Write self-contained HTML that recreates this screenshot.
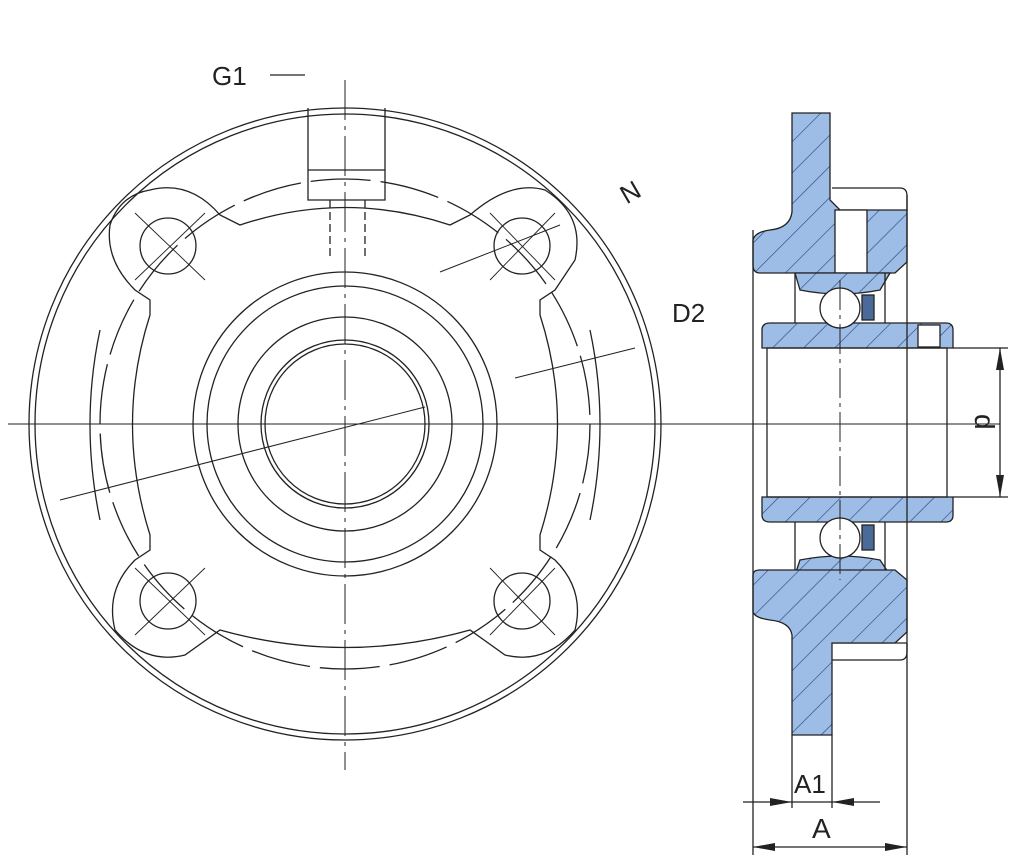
<!DOCTYPE html>
<html><head><meta charset="utf-8"><style>
html,body{margin:0;padding:0;background:#fff;}
svg{display:block;}
text{font-family:"Liberation Sans",sans-serif;fill:#222;}
</style></head><body>
<svg width="1024" height="868" viewBox="0 0 1024 868" xmlns="http://www.w3.org/2000/svg">
<defs>
<pattern id="h" patternUnits="userSpaceOnUse" width="22" height="22" patternTransform="rotate(45)">
<rect width="22" height="22" fill="#9dbde6"/>
<line x1="0" y1="0" x2="0" y2="22" stroke="#2a4a80" stroke-width="1.3"/>
</pattern>
</defs>
<g fill="none" stroke="#222" stroke-width="1.3">
<!-- front view -->
<circle cx="345" cy="424" r="316"/>
<circle cx="345" cy="424" r="310"/>
<circle cx="345" cy="424" r="152"/>
<circle cx="345" cy="424" r="138"/>
<circle cx="345" cy="424" r="107"/>
<circle cx="345" cy="424" r="84"/>
<circle cx="345" cy="424" r="80"/>
<circle cx="345" cy="424" r="245" stroke-dasharray="60 10"/>
<!-- flange outline -->
<path d="M150,190 Q190,180 220,215 L240,225 Q345,190 450,225 L470,215 Q510,180 545,190 Q585,215 575,260 L555,290 L540,300 L540,315 Q575,424 540,535 L540,550 L555,560 Q585,590 575,630 Q545,665 505,655 L470,630 Q345,665 220,630 L185,655 Q145,665 115,630 Q105,590 135,560 L150,550 L150,535 Q115,424 150,315 L150,300 L135,290 Q105,260 110,225 Q120,195 150,190 Z"/>
<path d="M100,520 Q80,424 100,330"/>
<path d="M590,520 Q610,424 590,330"/>
<!-- bolt holes -->
<circle cx="168" cy="246" r="28"/>
<circle cx="522" cy="246" r="28"/>
<circle cx="168" cy="601" r="28"/>
<circle cx="522" cy="601" r="28"/>
<g stroke-width="0.9">
<line x1="135" y1="213" x2="205" y2="280"/><line x1="135" y1="280" x2="205" y2="213"/>
<line x1="490" y1="213" x2="555" y2="280"/><line x1="490" y1="280" x2="555" y2="213"/>
<line x1="135" y1="568" x2="205" y2="635"/><line x1="135" y1="635" x2="205" y2="568"/>
<line x1="490" y1="568" x2="555" y2="635"/><line x1="490" y1="635" x2="555" y2="568"/>
</g>
<!-- top boss -->
<path d="M308,108 L308,200 L385,200 L385,108"/>
<line x1="308" y1="170" x2="385" y2="170"/>
<path d="M330,200 V260 M365,200 V260" stroke-dasharray="8 4"/>
<!-- center lines -->
<line x1="345" y1="80" x2="345" y2="770" stroke-dasharray="40 6 4 6" stroke-width="1"/>
<line x1="8" y1="424" x2="1000" y2="424" stroke-width="1"/>
<!-- leaders -->
<line x1="60" y1="500" x2="425" y2="407" stroke-width="1"/>
<line x1="440" y1="272" x2="560" y2="225" stroke-width="1"/>
<line x1="515" y1="378" x2="635" y2="348" stroke-width="1"/>
<line x1="270" y1="75" x2="305" y2="75"/>
</g>
<text x="212" y="85" font-size="26">G1</text>
<text x="620" y="200" font-size="26" transform="rotate(-30 632 190)">N</text>
<text x="672" y="322" font-size="26">D2</text>
<!-- section view -->
<g stroke="#222" stroke-width="1.3">
<path d="M832,188 H900 Q907,188 907,196 V210" fill="none"/>
<path d="M832,643 H907 M832,660 H900 Q907,660 907,652 V643" fill="none"/>
<path fill="url(#h)" d="M792,113 H830 V200 L840,210 H907 V262 L895,273 H760 Q753,273 753,265 V240 Q755,232 770,230 Q790,228 792,212 Z"/>
<rect x="835" y="210" width="32" height="63" fill="#fff"/>
<path fill="url(#h)" d="M795,273 H890 L880,290 Q840,298 800,290 Z"/>
<path fill="url(#h)" d="M795,575 H890 L880,560 Q840,552 800,560 Z"/>
<path fill="url(#h)" d="M762,330 Q762,323 770,323 H946 Q953,323 953,330 V348 H762 Z"/>
<path fill="url(#h)" d="M762,497 H953 V515 Q953,522 946,522 H770 Q762,522 762,515 Z"/>
<rect x="918" y="325" width="22" height="22" fill="#fff"/>
<path fill="url(#h)" d="M753,575 Q753,570 760,570 H895 L907,580 V632 L895,643 H832 V735 H792 V635 Q790,622 770,620 Q755,618 753,612 Z"/>
<circle cx="840" cy="308" r="20" fill="#fff"/>
<circle cx="840" cy="538" r="20" fill="#fff"/>
<rect x="862" y="295" width="12" height="25" fill="#4a6a9a"/>
<rect x="862" y="525" width="12" height="25" fill="#4a6a9a"/>
<g fill="none">
<path d="M795,273 V323 M885,273 V323 M795,522 V570 M885,522 V570"/>
<rect x="767" y="348" width="180" height="149"/>
<line x1="753" y1="230" x2="753" y2="855"/>
<line x1="907" y1="195" x2="907" y2="855"/>
<line x1="792" y1="735" x2="792" y2="808"/>
<line x1="832" y1="735" x2="832" y2="808"/>
<line x1="743" y1="802" x2="880" y2="802"/>
<line x1="753" y1="847" x2="907" y2="847"/>
<line x1="953" y1="348" x2="1008" y2="348"/>
<line x1="953" y1="497" x2="1008" y2="497"/>
<line x1="1000" y1="348" x2="1000" y2="497"/>
<line x1="840" y1="280" x2="840" y2="580" stroke-dasharray="30 5 4 5" stroke-width="1"/>
</g>
<g fill="#222" stroke="none">
<path d="M792,802 L770,798 L770,806 Z"/>
<path d="M832,802 L854,798 L854,806 Z"/>
<path d="M753,847 L775,843 L775,851 Z"/>
<path d="M907,847 L885,843 L885,851 Z"/>
<path d="M1000,348 L996,370 L1004,370 Z"/>
<path d="M1000,497 L996,475 L1004,475 Z"/>
</g>
</g>
<text x="794" y="793" font-size="26">A1</text>
<text x="812" y="838" font-size="28">A</text>
<text x="965" y="424" font-size="28" transform="rotate(90 975 424)">d</text>
</svg>
</body></html>
